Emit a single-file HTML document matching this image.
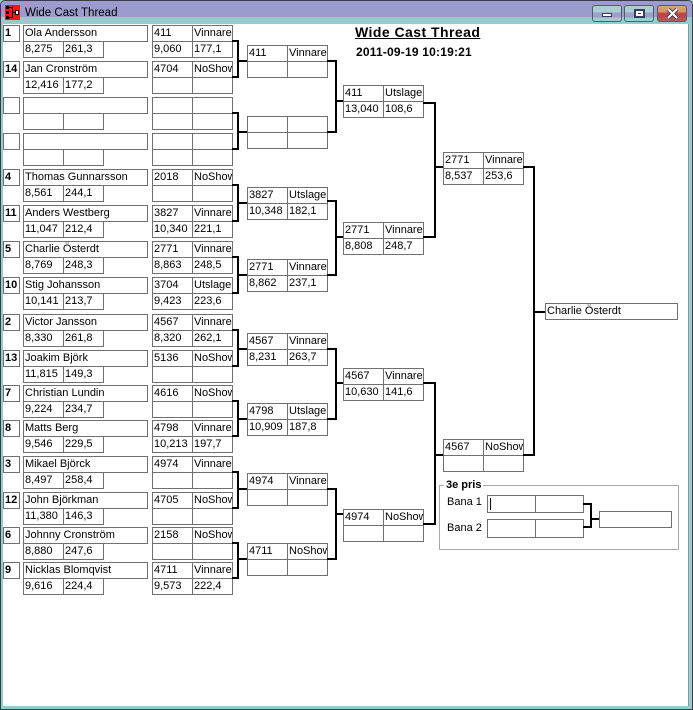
<!DOCTYPE html>
<html><head><meta charset="utf-8">
<style>
html,body{margin:0;padding:0}
body{width:693px;height:710px;overflow:hidden;position:relative;background:#98cccc;font-family:"Liberation Sans",sans-serif}
.a{position:absolute}
.c{position:absolute;box-sizing:border-box;border:1px solid #707070;height:17px;overflow:hidden;white-space:nowrap;font-size:11px;line-height:15px;padding-left:1px;background:#fff;color:#000}
.sd{left:3px;width:17px;font-weight:bold}
.nm{left:23px;width:125px}
.p1{left:23px;width:41px}
.p2{left:63px;width:41px}
.ra{left:152px;width:41px}
.rb{left:192px;width:41px}
.qa{left:247px;width:41px}
.qb{left:287px;width:41px}
.ta{left:343px;width:41px}
.tb{left:383px;width:41px}
.ua{left:443px;width:41px}
.ub{left:483px;width:41px}
.k{position:absolute;background:#000}
.h1{left:232px;width:7px;height:2px}
.v1{left:237px;width:2px}
.b1{left:237px;width:10px;height:2px}
.h2{left:327px;width:10px;height:2px}
.v2{left:335px;width:2px}
.b2{left:335px;width:8px;height:2px}
.h3{left:423px;width:13px;height:2px}
.v3{left:434px;width:2px}
.b3{left:434px;width:9px;height:2px}
.btn{position:absolute;top:5px;width:30px;height:17px;box-sizing:border-box;border:1px solid #5a5a6a;border-radius:3px;background:linear-gradient(#a9d0d0 0,#a9d0d0 42%,#9d9dcf 42%,#9d9dcf 78%,#a0cccc 78%)}
</style></head><body>
<!-- window chrome -->
<div class="a" style="left:0;top:0;width:693px;height:710px;box-sizing:border-box;border:1px solid #3a3a4a;border-radius:5px 5px 0 0"></div>
<div class="a" style="left:1px;top:1px;width:691px;height:16px;background:#9b9bcd;border-radius:4px 4px 0 0"></div>
<div class="a" style="left:3px;top:24px;width:685px;height:682px;background:#fff"></div>
<div class="a" style="left:688px;top:24px;width:1px;height:682px;background:#8a9a9a"></div>
<svg class="a" style="left:5px;top:5px" width="15" height="15" viewBox="0 0 15 15">
<rect x="0" y="0" width="15" height="15" fill="#ee1818"/>
<rect x="1" y="1" width="3" height="3" fill="#000"/>
<rect x="1" y="6" width="3" height="3" fill="#000"/>
<rect x="1" y="11" width="3" height="3" fill="#000"/>
<rect x="4" y="2" width="4" height="1" fill="#000"/>
<rect x="4" y="12" width="4" height="1" fill="#000"/>
<rect x="7" y="2" width="1" height="11" fill="#000"/>
<rect x="7" y="7" width="4" height="1" fill="#000"/>
<rect x="10" y="5" width="4" height="5" fill="#000"/>
<rect x="11" y="6" width="2" height="3" fill="#fff"/>
</svg>
<div class="a" style="left:25px;top:5px;font-size:11.5px;line-height:16px;color:#000;white-space:nowrap">Wide Cast Thread</div>
<div class="btn" style="left:592px"><div class="a" style="left:9px;top:7px;width:10px;height:4px;box-sizing:border-box;border:1px solid #3a3a5a;background:#fff"></div></div>
<div class="btn" style="left:624px"><div class="a" style="left:9px;top:3px;width:11px;height:9px;box-sizing:border-box;border:2px solid #3a3a5a;background:#fff"><div class="a" style="left:2px;top:2px;width:3px;height:1px;background:#3a3a5a"></div></div></div>
<div class="btn" style="left:657px;background:linear-gradient(#dca276 0,#d39468 42%,#c24646 42%,#c24646 78%,#b65656 78%)">
<svg class="a" style="left:8px;top:2px" width="13" height="11" viewBox="0 0 13 11"><path d="M2 1 L11 10 M11 1 L2 10" stroke="#3a3a5a" stroke-width="4"/><path d="M2 1 L11 10 M11 1 L2 10" stroke="#fff" stroke-width="2"/></svg></div>

<!-- header -->
<div class="a" style="left:355px;top:24px;font-size:14px;line-height:16px;font-weight:bold;text-decoration:underline;letter-spacing:0.45px;white-space:nowrap">Wide Cast Thread</div>
<div class="a" style="left:356px;top:45px;font-size:12px;line-height:14px;font-weight:bold;letter-spacing:0.2px;white-space:nowrap">2011-09-19 10:19:21</div>

<!-- entries -->
<div class="c sd" style="top:25px">1</div><div class="c nm" style="top:25px">Ola Andersson</div><div class="c p1" style="top:41px">8,275</div><div class="c p2" style="top:41px">261,3</div>
<div class="c ra" style="top:25px">411</div><div class="c rb" style="top:25px">Vinnare</div><div class="c ra" style="top:41px">9,060</div><div class="c rb" style="top:41px">177,1</div>

<div class="c sd" style="top:61px">14</div><div class="c nm" style="top:61px">Jan Cronström</div><div class="c p1" style="top:77px">12,416</div><div class="c p2" style="top:77px">177,2</div>
<div class="c ra" style="top:61px">4704</div><div class="c rb" style="top:61px">NoShow</div><div class="c ra" style="top:77px"></div><div class="c rb" style="top:77px"></div>

<div class="c sd" style="top:97px"></div><div class="c nm" style="top:97px"></div><div class="c p1" style="top:113px"></div><div class="c p2" style="top:113px"></div>
<div class="c ra" style="top:97px"></div><div class="c rb" style="top:97px"></div><div class="c ra" style="top:113px"></div><div class="c rb" style="top:113px"></div>

<div class="c sd" style="top:133px"></div><div class="c nm" style="top:133px"></div><div class="c p1" style="top:149px"></div><div class="c p2" style="top:149px"></div>
<div class="c ra" style="top:133px"></div><div class="c rb" style="top:133px"></div><div class="c ra" style="top:149px"></div><div class="c rb" style="top:149px"></div>

<div class="c sd" style="top:169px">4</div><div class="c nm" style="top:169px">Thomas Gunnarsson</div><div class="c p1" style="top:185px">8,561</div><div class="c p2" style="top:185px">244,1</div>
<div class="c ra" style="top:169px">2018</div><div class="c rb" style="top:169px">NoShow</div><div class="c ra" style="top:185px"></div><div class="c rb" style="top:185px"></div>

<div class="c sd" style="top:205px">11</div><div class="c nm" style="top:205px">Anders Westberg</div><div class="c p1" style="top:221px">11,047</div><div class="c p2" style="top:221px">212,4</div>
<div class="c ra" style="top:205px">3827</div><div class="c rb" style="top:205px">Vinnare</div><div class="c ra" style="top:221px">10,340</div><div class="c rb" style="top:221px">221,1</div>

<div class="c sd" style="top:241px">5</div><div class="c nm" style="top:241px">Charlie Österdt</div><div class="c p1" style="top:257px">8,769</div><div class="c p2" style="top:257px">248,3</div>
<div class="c ra" style="top:241px">2771</div><div class="c rb" style="top:241px">Vinnare</div><div class="c ra" style="top:257px">8,863</div><div class="c rb" style="top:257px">248,5</div>

<div class="c sd" style="top:277px">10</div><div class="c nm" style="top:277px">Stig Johansson</div><div class="c p1" style="top:293px">10,141</div><div class="c p2" style="top:293px">213,7</div>
<div class="c ra" style="top:277px">3704</div><div class="c rb" style="top:277px">Utslager</div><div class="c ra" style="top:293px">9,423</div><div class="c rb" style="top:293px">223,6</div>

<div class="c sd" style="top:314px">2</div><div class="c nm" style="top:314px">Victor Jansson</div><div class="c p1" style="top:330px">8,330</div><div class="c p2" style="top:330px">261,8</div>
<div class="c ra" style="top:314px">4567</div><div class="c rb" style="top:314px">Vinnare</div><div class="c ra" style="top:330px">8,320</div><div class="c rb" style="top:330px">262,1</div>

<div class="c sd" style="top:350px">13</div><div class="c nm" style="top:350px">Joakim Björk</div><div class="c p1" style="top:366px">11,815</div><div class="c p2" style="top:366px">149,3</div>
<div class="c ra" style="top:350px">5136</div><div class="c rb" style="top:350px">NoShow</div><div class="c ra" style="top:366px"></div><div class="c rb" style="top:366px"></div>

<div class="c sd" style="top:385px">7</div><div class="c nm" style="top:385px">Christian Lundin</div><div class="c p1" style="top:401px">9,224</div><div class="c p2" style="top:401px">234,7</div>
<div class="c ra" style="top:385px">4616</div><div class="c rb" style="top:385px">NoShow</div><div class="c ra" style="top:401px"></div><div class="c rb" style="top:401px"></div>

<div class="c sd" style="top:420px">8</div><div class="c nm" style="top:420px">Matts Berg</div><div class="c p1" style="top:436px">9,546</div><div class="c p2" style="top:436px">229,5</div>
<div class="c ra" style="top:420px">4798</div><div class="c rb" style="top:420px">Vinnare</div><div class="c ra" style="top:436px">10,213</div><div class="c rb" style="top:436px">197,7</div>

<div class="c sd" style="top:456px">3</div><div class="c nm" style="top:456px">Mikael Björck</div><div class="c p1" style="top:472px">8,497</div><div class="c p2" style="top:472px">258,4</div>
<div class="c ra" style="top:456px">4974</div><div class="c rb" style="top:456px">Vinnare</div><div class="c ra" style="top:472px"></div><div class="c rb" style="top:472px"></div>

<div class="c sd" style="top:492px">12</div><div class="c nm" style="top:492px">John Björkman</div><div class="c p1" style="top:508px">11,380</div><div class="c p2" style="top:508px">146,3</div>
<div class="c ra" style="top:492px">4705</div><div class="c rb" style="top:492px">NoShow</div><div class="c ra" style="top:508px"></div><div class="c rb" style="top:508px"></div>

<div class="c sd" style="top:527px">6</div><div class="c nm" style="top:527px">Johnny Cronström</div><div class="c p1" style="top:543px">8,880</div><div class="c p2" style="top:543px">247,6</div>
<div class="c ra" style="top:527px">2158</div><div class="c rb" style="top:527px">NoShow</div><div class="c ra" style="top:543px"></div><div class="c rb" style="top:543px"></div>

<div class="c sd" style="top:562px">9</div><div class="c nm" style="top:562px">Nicklas Blomqvist</div><div class="c p1" style="top:578px">9,616</div><div class="c p2" style="top:578px">224,4</div>
<div class="c ra" style="top:562px">4711</div><div class="c rb" style="top:562px">Vinnare</div><div class="c ra" style="top:578px">9,573</div><div class="c rb" style="top:578px">222,4</div>

<!-- round 1 brackets -->
<div class="k h1" style="top:40px"></div><div class="k v1" style="top:40px;height:38px"></div><div class="k h1" style="top:76px"></div><div class="k b1" style="top:60px"></div>
<div class="k h1" style="top:112px"></div><div class="k v1" style="top:112px;height:38px"></div><div class="k h1" style="top:148px"></div><div class="k b1" style="top:131px"></div>
<div class="k h1" style="top:184px"></div><div class="k v1" style="top:184px;height:38px"></div><div class="k h1" style="top:220px"></div><div class="k b1" style="top:202px"></div>
<div class="k h1" style="top:256px"></div><div class="k v1" style="top:256px;height:38px"></div><div class="k h1" style="top:292px"></div><div class="k b1" style="top:274px"></div>
<div class="k h1" style="top:329px"></div><div class="k v1" style="top:329px;height:38px"></div><div class="k h1" style="top:365px"></div><div class="k b1" style="top:348px"></div>
<div class="k h1" style="top:400px"></div><div class="k v1" style="top:400px;height:37px"></div><div class="k h1" style="top:435px"></div><div class="k b1" style="top:418px"></div>
<div class="k h1" style="top:471px"></div><div class="k v1" style="top:471px;height:38px"></div><div class="k h1" style="top:507px"></div><div class="k b1" style="top:488px"></div>
<div class="k h1" style="top:542px"></div><div class="k v1" style="top:542px;height:37px"></div><div class="k h1" style="top:577px"></div><div class="k b1" style="top:558px"></div>

<!-- round 2 boxes -->
<div class="c qa" style="top:45px">411</div><div class="c qb" style="top:45px">Vinnare</div><div class="c qa" style="top:61px"></div><div class="c qb" style="top:61px"></div>
<div class="c qa" style="top:116px"></div><div class="c qb" style="top:116px"></div><div class="c qa" style="top:132px"></div><div class="c qb" style="top:132px"></div>
<div class="c qa" style="top:187px">3827</div><div class="c qb" style="top:187px">Utslager</div><div class="c qa" style="top:203px">10,348</div><div class="c qb" style="top:203px">182,1</div>
<div class="c qa" style="top:259px">2771</div><div class="c qb" style="top:259px">Vinnare</div><div class="c qa" style="top:275px">8,862</div><div class="c qb" style="top:275px">237,1</div>
<div class="c qa" style="top:333px">4567</div><div class="c qb" style="top:333px">Vinnare</div><div class="c qa" style="top:349px">8,231</div><div class="c qb" style="top:349px">263,7</div>
<div class="c qa" style="top:403px">4798</div><div class="c qb" style="top:403px">Utslager</div><div class="c qa" style="top:419px">10,909</div><div class="c qb" style="top:419px">187,8</div>
<div class="c qa" style="top:473px">4974</div><div class="c qb" style="top:473px">Vinnare</div><div class="c qa" style="top:489px"></div><div class="c qb" style="top:489px"></div>
<div class="c qa" style="top:543px">4711</div><div class="c qb" style="top:543px">NoShow</div><div class="c qa" style="top:559px"></div><div class="c qb" style="top:559px"></div>

<!-- round 2 brackets -->
<div class="k h2" style="top:60px"></div><div class="k v2" style="top:60px;height:73px"></div><div class="k h2" style="top:131px"></div><div class="k b2" style="top:100px"></div>
<div class="k h2" style="top:200px"></div><div class="k v2" style="top:200px;height:76px"></div><div class="k h2" style="top:274px"></div><div class="k b2" style="top:236px"></div>
<div class="k h2" style="top:348px"></div><div class="k v2" style="top:348px;height:72px"></div><div class="k h2" style="top:418px"></div><div class="k b2" style="top:382px"></div>
<div class="k h2" style="top:488px"></div><div class="k v2" style="top:488px;height:72px"></div><div class="k h2" style="top:558px"></div><div class="k b2" style="top:513px"></div>

<!-- round 3 boxes -->
<div class="c ta" style="top:85px">411</div><div class="c tb" style="top:85px">Utslager</div><div class="c ta" style="top:101px">13,040</div><div class="c tb" style="top:101px">108,6</div>
<div class="c ta" style="top:222px">2771</div><div class="c tb" style="top:222px">Vinnare</div><div class="c ta" style="top:238px">8,808</div><div class="c tb" style="top:238px">248,7</div>
<div class="c ta" style="top:368px">4567</div><div class="c tb" style="top:368px">Vinnare</div><div class="c ta" style="top:384px">10,630</div><div class="c tb" style="top:384px">141,6</div>
<div class="c ta" style="top:509px">4974</div><div class="c tb" style="top:509px">NoShow</div><div class="c ta" style="top:525px"></div><div class="c tb" style="top:525px"></div>

<!-- round 3 brackets -->
<div class="k h3" style="top:102px"></div><div class="k v3" style="top:102px;height:136px"></div><div class="k h3" style="top:236px"></div><div class="k b3" style="top:166px"></div>
<div class="k h3" style="top:382px"></div><div class="k v3" style="top:382px;height:143px"></div><div class="k h3" style="top:523px"></div><div class="k b3" style="top:454px"></div>

<!-- round 4 boxes -->
<div class="c ua" style="top:152px">2771</div><div class="c ub" style="top:152px">Vinnare</div><div class="c ua" style="top:168px">8,537</div><div class="c ub" style="top:168px">253,6</div>
<div class="c ua" style="top:439px">4567</div><div class="c ub" style="top:439px">NoShow</div><div class="c ua" style="top:455px"></div><div class="c ub" style="top:455px"></div>

<!-- final bracket -->
<div class="k" style="left:523px;top:166px;width:12px;height:2px"></div>
<div class="k" style="left:533px;top:166px;width:2px;height:290px"></div>
<div class="k" style="left:523px;top:454px;width:12px;height:2px"></div>
<div class="k" style="left:533px;top:311px;width:12px;height:2px"></div>
<div class="c" style="left:545px;top:303px;width:133px">Charlie Österdt</div>

<!-- 3e pris -->
<div class="a" style="left:439px;top:485px;width:240px;height:65px;box-sizing:border-box;border:1px solid #a8a8a8"></div>
<div class="a" style="left:444px;top:478px;padding:0 2px;background:#fff;font-size:11px;line-height:14px;font-weight:bold;white-space:nowrap">3e pris</div>
<div class="a" style="left:447px;top:495px;font-size:11px;line-height:14px;white-space:nowrap">Bana 1</div>
<div class="a" style="left:447px;top:521px;font-size:11px;line-height:14px;white-space:nowrap">Bana 2</div>
<div class="c" style="left:487px;top:495px;width:49px;height:18px"></div>
<div class="c" style="left:535px;top:495px;width:49px;height:18px"></div>
<div class="c" style="left:487px;top:519px;width:49px;height:19px"></div>
<div class="c" style="left:535px;top:519px;width:49px;height:19px"></div>
<div class="k" style="left:490px;top:498px;width:1px;height:12px"></div>
<div class="k" style="left:583px;top:503px;width:9px;height:2px"></div>
<div class="k" style="left:590px;top:503px;width:2px;height:25px"></div>
<div class="k" style="left:583px;top:526px;width:9px;height:2px"></div>
<div class="k" style="left:590px;top:518px;width:9px;height:2px"></div>
<div class="c" style="left:599px;top:511px;width:73px"></div>
</body></html>
